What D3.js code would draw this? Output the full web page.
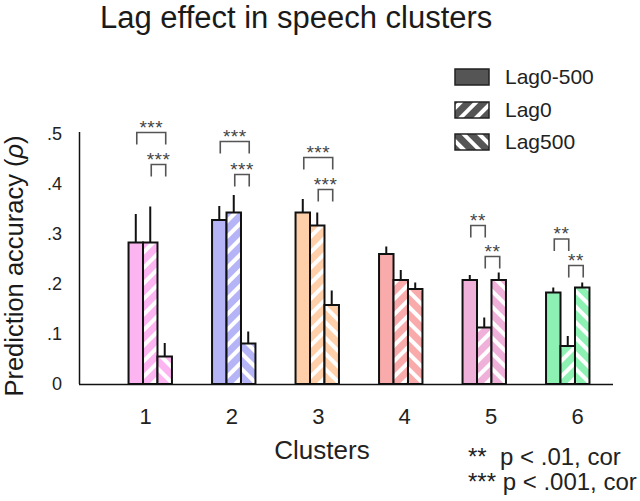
<!DOCTYPE html>
<html>
<head>
<meta charset="utf-8">
<script src="https://cdnjs.cloudflare.com/ajax/libs/d3/7.8.5/d3.min.js"></script>
<style>
  html, body { margin: 0; padding: 0; background: #fff; }
  svg { display: block; font-family: "Liberation Sans", Arial, sans-serif; }
</style>
</head>
<body>
<svg id="chart" width="640" height="501"></svg>
<script>
// ---- data ----
const clusters = ["1", "2", "3", "4", "5", "6"];
const seriesNames = ["Lag0-500", "Lag0", "Lag500"];
const lag0_500 = [0.283, 0.328, 0.343, 0.260, 0.208, 0.183];
const lag0     = [0.283, 0.343, 0.317, 0.208, 0.113, 0.076];
const lag500   = [0.055, 0.081, 0.158, 0.190, 0.208, 0.193];
const err0_500 = [0.057, 0.028, 0.027, 0.015, 0.010, 0.010];
const errLag0  = [0.072, 0.035, 0.026, 0.020, 0.020, 0.020];
const errLag500= [0.027, 0.024, 0.029, 0.013, 0.015, 0.010];
const clusterColors = ["#fdb5f2", "#b4b4f7", "#ffcfa9", "#f9abab", "#efb1d9", "#8ef1b4"];
const yTicks = [0, 0.1, 0.2, 0.3, 0.4, 0.5];
// significance brackets
const sigCluster = ["1", "1", "2", "2", "3", "3", "5", "5", "6", "6"];
const sigFrom    = [0, 1, 0, 1, 0, 1, 0, 1, 0, 1];
const sigTo      = [2, 2, 2, 2, 2, 2, 1, 2, 1, 2];
const sigLevel   = [0.503, 0.439, 0.485, 0.419, 0.453, 0.389, 0.317, 0.255, 0.290, 0.237];
const sigLabel   = ["***", "***", "***", "***", "***", "***", "**", "**", "**", "**"];
const noteLines  = ["**  p < .01, cor", "*** p < .001, cor"];

const values = [lag0_500, lag0, lag500];
const errors = [err0_500, errLag0, errLag500];

const svg = d3.select("#chart");

// ---- scales ----
const y = d3.scaleLinear().domain([0, 0.5]).range([384, 134]);
const x0 = d3.scaleBand().domain(clusters).range([108.5, 609.5]).paddingInner(0.48).paddingOuter(0.24);
const x1 = d3.scaleBand().domain(seriesNames).range([0, x0.bandwidth()]).padding(0);
const xLab = d3.scalePoint().domain(clusters).range([145, 577]);

// ---- patterns ----
const defs = svg.append("defs");
function makePattern(id, color, angle) {
  const p = defs.append("pattern").attr("id", id)
    .attr("patternUnits", "userSpaceOnUse").attr("width", 11).attr("height", 11)
    .attr("patternTransform", `rotate(${angle})`);
  p.append("rect").attr("width", 11).attr("height", 11).attr("fill", color);
  p.append("rect").attr("x", 0).attr("width", 4).attr("height", 11).attr("fill", "#fff");
}
clusters.forEach((c, i) => {
  makePattern("p0_" + i, clusterColors[i], 45);
  makePattern("p5_" + i, clusterColors[i], -45);
});
makePattern("leg0", "#555", 45);
makePattern("leg5", "#555", -45);

function fillFor(si, ci) {
  if (si === 0) return clusterColors[ci];
  if (si === 1) return `url(#p0_${ci})`;
  return `url(#p5_${ci})`;
}

// ---- title ----
svg.append("text").attr("x", 100).attr("y", 28).attr("font-size", 31).attr("fill", "#1a1a1a")
  .text("Lag effect in speech clusters");

// ---- y axis ----
const yAxis = d3.axisLeft(y).tickValues(yTicks).tickSize(0).tickPadding(17)
  .tickFormat(d => d === 0 ? "0" : d3.format(".1f")(d).replace(/^0/, ""));
const gy = svg.append("g").attr("transform", "translate(79,0)").call(yAxis);
gy.select(".domain").remove();
gy.selectAll("text").attr("font-size", 18).attr("fill", "#222").attr("font-family", "Liberation Sans, Arial, sans-serif");
svg.append("line").attr("x1", 79.5).attr("x2", 79.5).attr("y1", y(0.5) - 2).attr("y2", y(0))
  .attr("stroke", "#111").attr("stroke-width", 1.5);

// y label
svg.append("text").attr("transform", `translate(23,${(y(0) + y(0.5)) / 2 + 7}) rotate(-90)`)
  .attr("text-anchor", "middle").attr("font-size", 25.5).attr("fill", "#1a1a1a")
  .html('Prediction accuracy (<tspan font-style="italic">ρ</tspan>)');

// ---- bars ----
const groups = svg.append("g").selectAll("g").data(clusters).join("g")
  .attr("transform", d => `translate(${x0(d)},0)`);

groups.each(function(c, ci) {
  const g = d3.select(this);
  seriesNames.forEach((s, si) => {
    const v = values[si][ci];
    const e = errors[si][ci];
    const cx = x1(s) + x1.bandwidth() / 2;
    g.append("line").attr("x1", cx).attr("x2", cx).attr("y1", y(v)).attr("y2", y(v + e))
      .attr("stroke", "#111").attr("stroke-width", 2);
    g.append("rect").attr("x", x1(s)).attr("y", y(v)).attr("width", x1.bandwidth())
      .attr("height", y(0) - y(v)).attr("fill", fillFor(si, ci))
      .attr("stroke", "#111").attr("stroke-width", 2);
  });
});

// baseline
svg.append("line").attr("x1", 79).attr("x2", 613).attr("y1", y(0) + 0.5).attr("y2", y(0) + 0.5)
  .attr("stroke", "#111").attr("stroke-width", 1.5);

// ---- x axis labels ----
const xAxis = d3.axisBottom(xLab).tickSize(0).tickPadding(24);
const gx = svg.append("g").attr("transform", `translate(0,${y(0)})`).call(xAxis);
gx.select(".domain").remove();
gx.selectAll("text").attr("font-size", 22).attr("fill", "#222").attr("font-family", "Liberation Sans, Arial, sans-serif");

svg.append("text").attr("x", 322).attr("y", 459).attr("text-anchor", "middle")
  .attr("font-size", 26).attr("fill", "#222").text("Clusters");

// ---- significance brackets ----
const legLen = 12;
sigCluster.forEach((c, k) => {
  const xa = x0(c) + x1(seriesNames[sigFrom[k]]) + x1.bandwidth() / 2 + 1;
  const xb = x0(c) + x1(seriesNames[sigTo[k]]) + x1.bandwidth() / 2 + 1;
  const yt = y(sigLevel[k]);
  svg.append("path")
    .attr("d", `M${xa},${yt + legLen}V${yt}H${xb}V${yt + legLen}`)
    .attr("fill", "none").attr("stroke", "#555").attr("stroke-width", 1.6);
  svg.append("text").attr("x", (xa + xb) / 2).attr("y", yt + 1).attr("text-anchor", "middle")
    .attr("font-size", 19).attr("letter-spacing", 0.5).attr("fill", "#444").text(sigLabel[k]);
});

// ---- legend ----
const legFills = ["#555", "url(#leg0)", "url(#leg5)"];
const legY = [77, 110, 142];
seriesNames.forEach((s, i) => {
  svg.append("rect").attr("x", 455).attr("y", legY[i] - 8).attr("width", 34).attr("height", 16)
    .attr("fill", legFills[i]).attr("stroke", "#222").attr("stroke-width", 1.5);
  svg.append("text").attr("x", 505).attr("y", legY[i]).attr("dy", "0.35em")
    .attr("font-size", 21).attr("fill", "#222").text(s);
});

// ---- notes ----
noteLines.forEach((t, i) => {
  svg.append("text").attr("x", 468).attr("y", 465 + i * 25).attr("font-size", 24)
    .attr("fill", "#222").attr("xml:space", "preserve").style("white-space", "pre").text(t);
});
</script>
</body>
</html>
